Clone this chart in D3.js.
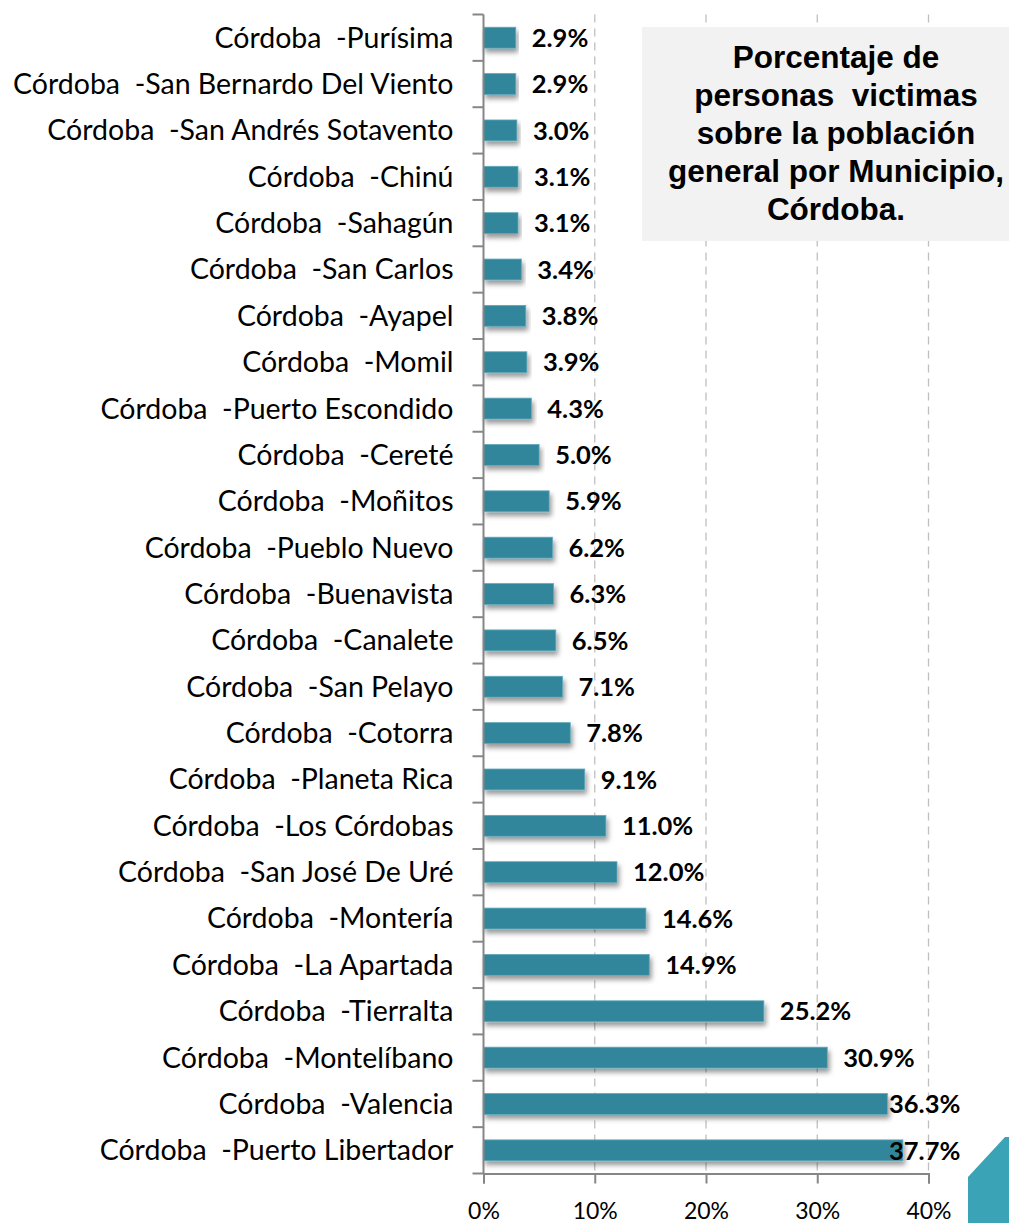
<!DOCTYPE html>
<html>
<head>
<meta charset="utf-8">
<script src="https://cdn.jsdelivr.net/npm/d3@7"></script>
<style>
  body { margin: 0; background: #fff; }
  svg { display: block; }
</style>
</head>
<body>
<svg width="1009" height="1223"></svg>
<script>
// municipios, de arriba hacia abajo como en la grafica
var municipios = ["Purísima", "San Bernardo Del Viento", "San Andrés Sotavento", "Chinú", "Sahagún",
    "San Carlos", "Ayapel", "Momil", "Puerto Escondido", "Cereté", "Moñitos", "Pueblo Nuevo",
    "Buenavista", "Canalete", "San Pelayo", "Cotorra", "Planeta Rica", "Los Córdobas",
    "San José De Uré", "Montería", "La Apartada", "Tierralta", "Montelíbano", "Valencia",
    "Puerto Libertador"];
var porcentajes = [2.9, 2.9, 3.0, 3.1, 3.1, 3.4, 3.8, 3.9, 4.3, 5.0, 5.9, 6.2, 6.3, 6.5, 7.1,
    7.8, 9.1, 11.0, 12.0, 14.6, 14.9, 25.2, 30.9, 36.3, 37.7];
var ticksX = [0, 10, 20, 30, 40];
var tituloLineas = ["Porcentaje de", "personas  victimas", "sobre la población",
    "general por Municipio,", "Córdoba."];

var color = '#31869b';

var svg = d3.select("svg");

var x = d3.scaleLinear().domain([0, 40]).range([483.5, 928.5]);
var y = d3.scaleBand().domain(municipios).range([14.5, 1173.5]).paddingInner(0.55).paddingOuter(0.275);
var yRow = d3.scaleBand().domain(municipios).range([14.5, 1173.5]);

var defs = svg.append("defs");
var f = defs.append("filter").attr("id", "sombra")
    .attr("x", "-5%").attr("y", "-40%").attr("width", "115%").attr("height", "220%");
f.append("feDropShadow").attr("dx", 2).attr("dy", 4).attr("stdDeviation", 2.5)
    .attr("flood-color", "#000").attr("flood-opacity", 0.4);

// lineas de guia punteadas
svg.append("g").selectAll("line")
    .data(ticksX.slice(1))
    .enter().append("line")
    .attr("x1", function (d) { return x(d); })
    .attr("x2", function (d) { return x(d); })
    .attr("y1", 14.5).attr("y2", 1173.5)
    .attr("stroke", "#bfbfbf").attr("stroke-width", 1.3)
    .attr("stroke-dasharray", "8,6");

// recuadro del titulo
svg.append("rect")
    .attr("x", 642).attr("y", 27).attr("width", 367).attr("height", 214)
    .attr("fill", "#f2f2f2");

svg.append("g").selectAll("text")
    .data(tituloLineas)
    .enter().append("text")
    .attr("x", 836)
    .attr("y", function (d, i) { return 68 + i * 38; })
    .attr("text-anchor", "middle")
    .style("font-family", "'Liberation Sans', Arial, sans-serif")
    .style("font-weight", "bold")
    .style("font-size", "31.5px")
    .attr("fill", "#000")
    .style("white-space", "pre")
    .text(function (d) { return d; });

// barras
svg.append("g").selectAll("rect")
    .data(porcentajes)
    .enter().append("rect")
    .attr("x", x(0))
    .attr("y", function (d, i) { return y(municipios[i]); })
    .attr("width", function (d) { return x(d) - x(0); })
    .attr("height", y.bandwidth())
    .attr("fill", color)
    .attr("stroke", "#5fa9bb").attr("stroke-width", 0.8)
    .attr("filter", "url(#sombra)");

// etiquetas de valores
svg.append("g").selectAll("text")
    .data(porcentajes)
    .enter().append("text")
    .attr("x", function (d) { return Math.min(x(d) + 16, 889); })
    .attr("y", function (d, i) { return y(municipios[i]) + y.bandwidth() / 2; })
    .attr("dy", "0.36em")
    .style("font-family", "Lato, 'Open Sans', sans-serif")
    .style("font-weight", "bold")
    .style("font-size", "25.5px")
    .attr("fill", "#000")
    .text(function (d) { return d.toFixed(1) + "%"; });

// eje vertical
var ejeY = svg.append("g").attr("transform", "translate(" + x(0) + ",0)");
ejeY.append("line").attr("y1", 14.5).attr("y2", 1173.5).attr("stroke", "#868686").attr("stroke-width", 2);
ejeY.selectAll("line.t")
    .data(d3.range(municipios.length + 1))
    .enter().append("line").attr("class", "t")
    .attr("x1", -11).attr("x2", 0)
    .attr("y1", function (i) { return 14.5 + i * yRow.step(); })
    .attr("y2", function (i) { return 14.5 + i * yRow.step(); })
    .attr("stroke", "#868686").attr("stroke-width", 2);
ejeY.selectAll("text")
    .data(municipios)
    .enter().append("text")
    .attr("x", -30)
    .attr("y", function (d) { return yRow(d) + yRow.bandwidth() / 2; })
    .attr("dy", "0.35em")
    .attr("text-anchor", "end")
    .style("font-family", "Lato, 'Open Sans', sans-serif")
    .style("font-size", "28.5px")
    .style("white-space", "pre")
    .attr("fill", "#000")
    .text(function (d) { return "Córdoba  -" + d; });

// eje horizontal
var ejeX = svg.append("g").attr("transform", "translate(0,1173.5)")
    .call(d3.axisBottom(x).tickValues(ticksX).tickSize(10).tickPadding(19)
        .tickFormat(function (d) { return d + "%"; }));
ejeX.select(".domain").attr("stroke", "#868686").attr("stroke-width", 2);
ejeX.selectAll(".tick line").attr("stroke", "#868686").attr("stroke-width", 2);
ejeX.selectAll(".tick text")
    .style("font-family", "Lato, 'Open Sans', sans-serif")
    .style("font-size", "23px")
    .attr("fill", "#000");

// forma decorativa de la esquina
svg.append("path")
    .attr("d", "M968,1177 L1005,1137 L1009,1137 L1009,1223 L968,1223 Z")
    .attr("fill", "#3ba3b6");
</script>
</body>
</html>
